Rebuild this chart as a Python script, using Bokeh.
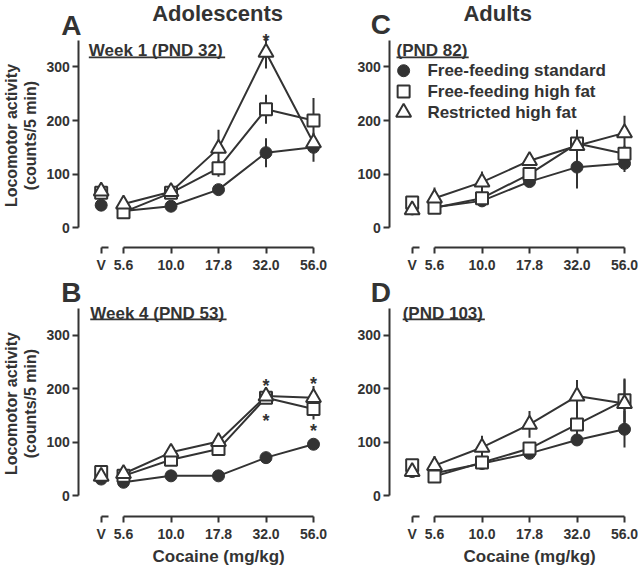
import math
from bokeh.plotting import figure
from bokeh.models import LinearAxis, FixedTicker, Range1d, Label, BoxAnnotation, Title
from bokeh.layouts import row, column
from bokeh.embed import file_html
from bokeh.resources import INLINE
from bokeh.core.properties import value

FONT = "Liberation Sans"
INK = "#333333"

# ---------------- data ----------------
DOSE_LABELS = ["5.6", "10.0", "17.8", "32.0", "56.0"]
DOSE_X = [0, 1, 2, 3, 4]
VEH_X = -0.47
VEH_LABEL = "V"
SERIES = ["Free-feeding standard", "Free-feeding high fat", "Restricted high fat"]
Y_TICKS = [0, 100, 200, 300]

# Panel A: Adolescents, Week 1 (PND 32)
A_VEH = [42, 65, 68]            # vehicle: standard, high fat, restricted high fat
A_STD = [31, 40, 71, 140, 150]
A_STD_ERR = [0, 0, 0, 27, 27]
A_HF = [29, 65, 111, 221, 200]
A_HF_ERR = [0, 0, 16, 27, 42]
A_RHF = [44, 67, 148, 327, 158]
A_RHF_ERR = [0, 0, 35, 30, 0]
A_STAR_X = [3]
A_STAR_Y = [356]

# Panel B: Adolescents, Week 4 (PND 53)
B_VEH = [31, 44, 36]
B_STD = [25, 37, 37, 71, 96]
B_STD_ERR = [0, 0, 0, 0, 0]
B_HF = [37, 67, 87, 183, 162]
B_HF_ERR = [0, 0, 0, 12, 20]
B_RHF = [41, 81, 101, 186, 183]
B_RHF_ERR = [0, 0, 12, 15, 22]
B_STAR_X = [3, 3, 4, 4]
B_STAR_Y = [213, 146, 216, 128]

# Panel C: Adults (PND 82)
C_VEH = [35, 47, 33]
C_STD = [38, 50, 86, 113, 120]
C_STD_ERR = [0, 0, 0, 40, 16]
C_HF = [37, 55, 100, 157, 138]
C_HF_ERR = [0, 0, 0, 22, 15]
C_RHF = [55, 85, 125, 153, 177]
C_RHF_ERR = [20, 20, 8, 30, 32]

# Panel D: Adults (PND 103)
D_VEH = [45, 57, 45]
D_STD = [42, 60, 79, 104, 124]
D_STD_ERR = [0, 0, 0, 0, 34]
D_HF = [36, 62, 88, 133, 178]
D_HF_ERR = [0, 0, 0, 28, 41]
D_RHF = [56, 90, 133, 186, 172]
D_RHF_ERR = [18, 22, 25, 30, 45]

# ---------------- style / layout ----------------
PX_PER_DOSE = 47.5        # screen px per dose step
PX_PER_UNIT = 0.54        # screen px per count
Y_AXIS_X = -0.94          # where the y axis sits (data x)
STUB_PX = 7               # length of the short axis piece under "V"
XLAB_PX = 132             # rendered width of the x-axis title (17px bold)
MARKERS = [
    dict(marker="circle", size=12, fill_color=INK, line_color=INK, line_width=1),
    dict(marker="square", size=12, fill_color="white", line_color=INK, line_width=2),
    dict(marker="triangle", size=15, fill_color="white", line_color=INK, line_width=2),
]


def style_axis(ax):
    ax.axis_line_color = INK
    ax.axis_line_width = 2
    ax.major_tick_line_color = INK
    ax.major_tick_line_width = 2
    ax.major_tick_in = 0
    ax.major_tick_out = 6
    ax.minor_tick_line_color = None
    ax.major_label_text_font = FONT
    ax.major_label_text_font_size = "14px"
    ax.major_label_text_font_style = "bold"
    ax.major_label_text_color = INK


def txt(x, y, text, size, align="left", angle=0.0):
    return Label(x=x, y=y, text=text, text_align=align, text_baseline="middle", angle=angle,
                 text_font=FONT, text_font_size=size, text_font_style="bold", text_color=INK)


def panel(veh, series, errs, stars, subtitle, sub_x, sub_y, under_y, under_w,
          letter, letter_x, letter_y, title, title_x, ylabel, xlabel, legend,
          width, height, x0_local, y0_local, bb):
    xr = Range1d(-x0_local / PX_PER_DOSE, (width - x0_local) / PX_PER_DOSE)
    yr = Range1d(-(height - bb - y0_local) / PX_PER_UNIT, y0_local / PX_PER_UNIT)
    p = figure(width=width, height=height, x_range=xr, y_range=yr,
               output_backend="svg", toolbar_location=None,
               x_axis_type=None, y_axis_type=None, min_border=0, min_border_bottom=bb)
    p.outline_line_color = None
    p.background_fill_color = "white"
    p.border_fill_color = "white"

    yax = LinearAxis(fixed_location=Y_AXIS_X, bounds=(0, 350), ticker=FixedTicker(ticks=Y_TICKS))
    style_axis(yax)
    yax.major_label_standoff = 3
    p.add_layout(yax, "left")

    gap = round(-VEH_X * PX_PER_DOSE) - STUB_PX
    xax = LinearAxis(bounds=(VEH_X, DOSE_X[-1]),
                     ticker=FixedTicker(ticks=[VEH_X] + DOSE_X),
                     major_label_overrides=dict(zip([VEH_X] + DOSE_X, [VEH_LABEL] + DOSE_LABELS)))
    style_axis(xax)
    xax.axis_line_dash = f"{STUB_PX} {gap} 600"
    xax.major_label_standoff = 3
    p.add_layout(xax, "below")

    if xlabel:
        dose_mid = x0_local + PX_PER_DOSE * sum(DOSE_X) / len(DOSE_X)
        p.add_layout(Title(text=xlabel, align="left", offset=dose_mid - XLAB_PX / 2, standoff=0,
                           text_font=FONT, text_font_size="17px", text_font_style="bold",
                           text_color=INK), "below")

    if ylabel:
        p.add_layout(txt(-2.36, 172, ylabel[0], "16px", "center", math.pi / 2))
        p.add_layout(txt(-1.96, 172, ylabel[1], "16px", "center", math.pi / 2))

    # connecting lines
    for m in series:
        p.line(DOSE_X, m, line_color=INK, line_width=2)
    # error bars
    for m, e in zip(series, errs):
        lo = [a - b for a, b in zip(m, e)]
        hi = [a + b for a, b in zip(m, e)]
        p.segment(x0=DOSE_X, y0=lo, x1=DOSE_X, y1=hi, line_color=INK, line_width=2)
    # markers
    for v, m, st in zip(veh, series, MARKERS):
        p.scatter(x=[VEH_X] + DOSE_X, y=[v] + list(m), **st)

    if stars:
        sx, sy = stars
        p.text(x=sx, y=sy, text=["*"] * len(sx), text_font=value(FONT), text_font_size="18px",
               text_font_style="bold", text_color=INK, text_align="center",
               text_baseline="middle", y_offset=4)

    # subtitle with underline
    p.add_layout(txt(sub_x, sub_y, subtitle, "17px"))
    p.add_layout(BoxAnnotation(left=sub_x, right=sub_x + under_w, bottom=under_y - 1.6,
                               top=under_y + 1.6, fill_color=INK, fill_alpha=1, line_color=None))

    p.add_layout(txt(letter_x, letter_y, letter, "28px", "center"))
    if title:
        p.add_layout(txt(title_x, 400, title, "22px", "center"))

    if legend:
        lx, ly, tx = legend
        for yy, st in zip(ly, MARKERS):
            p.scatter(x=[lx], y=[yy], **st)
        p.text(x=[tx] * len(SERIES), y=ly, text=SERIES, text_font=value(FONT),
               text_font_size="17px", text_font_style="bold", text_color=INK,
               text_baseline="middle")
    return p


YLAB = ["Locomotor activity", "(counts/5 min)"]
XLAB = "Cocaine (mg/kg)"

pA = panel(A_VEH, [A_STD, A_HF, A_RHF], [A_STD_ERR, A_HF_ERR, A_RHF_ERR], (A_STAR_X, A_STAR_Y),
           "Week 1 (PND 32)", -0.73, 331, 318, 2.87, "A", -1.10, 378, "Adolescents", 1.98,
           YLAB, None, None, 340, 275, 123, 229, 26)
pC = panel(C_VEH, [C_STD, C_HF, C_RHF], [C_STD_ERR, C_HF_ERR, C_RHF_ERR], None,
           "(PND 82)", -0.80, 331, 318, 1.52, "C", -1.13, 380, "Adults", 1.33,
           None, None, (-0.65, [293, 254, 215], -0.15), 298, 275, 94, 229, 26)
pB = panel(B_VEH, [B_STD, B_HF, B_RHF], [B_STD_ERR, B_HF_ERR, B_RHF_ERR], (B_STAR_X, B_STAR_Y),
           "Week 4 (PND 53)", -0.70, 340, 329, 2.87, "B", -1.10, 380, None, 0,
           YLAB, XLAB, None, 340, 290, 123, 222, 47)
pD = panel(D_VEH, [D_STD, D_HF, D_RHF], [D_STD_ERR, D_HF_ERR, D_RHF_ERR], None,
           "(PND 103)", -0.67, 340, 329, 1.73, "D", -1.13, 380, None, 0,
           None, XLAB, None, 298, 290, 94, 222, 47)

layout = column(row(pA, pC), row(pB, pD))
open("out.html", "w").write(file_html(layout, INLINE))
